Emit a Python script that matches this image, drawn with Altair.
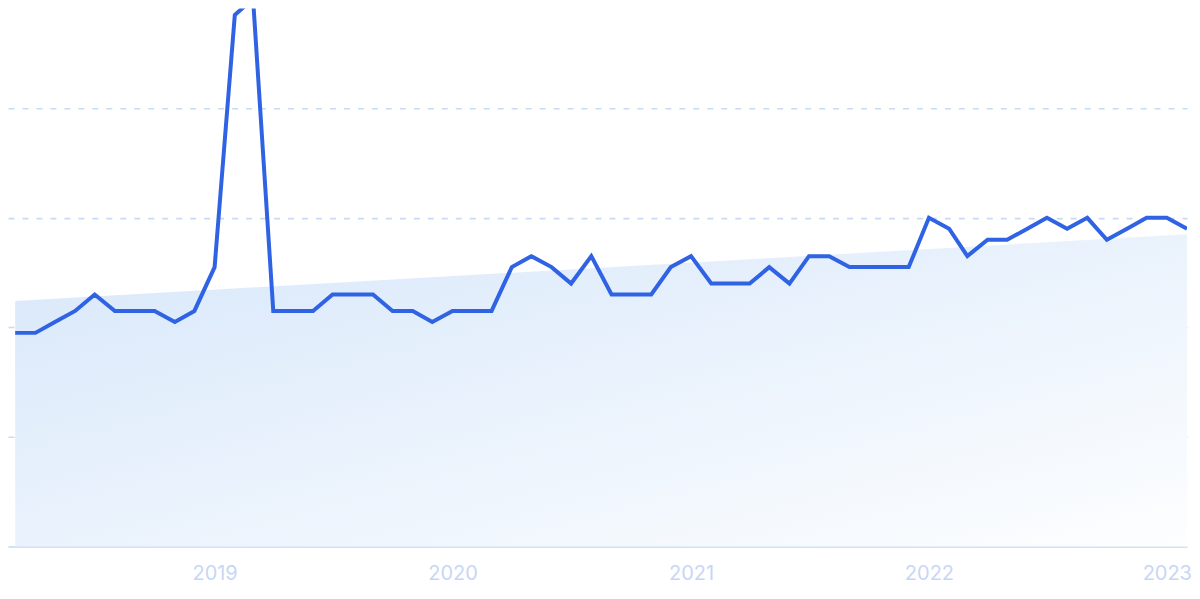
import altair as alt
import pandas as pd

# Monthly values, 2018-03 .. 2023-02
months = pd.date_range("2018-03-01", "2023-02-01", freq="MS").strftime("%Y-%m-%d").tolist()
values = [
    39, 39, 41, 43, 46, 43, 43, 43, 41, 43,
    51, 97, 100, 43, 43, 43, 46, 46, 46, 43,
    43, 41, 43, 43, 43, 51, 53, 51, 48, 53,
    46, 46, 46, 51, 53, 48, 48, 48, 51, 48,
    53, 53, 51, 51, 51, 51, 60, 58, 53, 56,
    56, 58, 60, 58, 60, 56, 58, 60, 60, 58,
]
grid_values = [20, 40, 60, 80]

df = pd.DataFrame({"date": months, "value": values})

xscale = alt.Scale(type="utc", domain=["2018-02-18", "2023-02-01"])
yscale = alt.Scale(domain=[0, 98.2], nice=False, zero=True)

x_axis = alt.Axis(
    format="%Y",
    tickCount={"interval": "year", "step": 1},
    labelFont="Inter",
    labelFontSize=20,
    labelColor="#c8d6f6",
    labelPadding=17,
    labelFlush=False,
    ticks=False,
    grid=False,
    domainColor="#d0e2f8",
    domainWidth=2,
    title=None,
)
y_axis = alt.Axis(
    values=grid_values,
    grid=True,
    gridColor="#c8dbf6",
    gridDash=[6, 8],
    gridWidth=1.6,
    labels=False,
    ticks=False,
    domain=False,
    title=None,
)

base = alt.Chart(df)

trend = base.transform_regression("date", "value", method="linear").mark_area(
    color=alt.Gradient(
        gradient="linear",
        x1=0, y1=0, x2=1, y2=1,
        stops=[
            alt.GradientStop(color="#d7e7fa", offset=0),
            alt.GradientStop(color="#fdfeff", offset=1),
        ],
    )
).encode(
    x=alt.X("date:T", scale=xscale, axis=x_axis),
    y=alt.Y("value:Q", scale=yscale, axis=y_axis),
    y2=alt.datum(0),
)

line = base.mark_line(color="#2f63e4", strokeWidth=4, clip=True, strokeJoin="miter").encode(
    x=alt.X("date:T", scale=xscale, axis=x_axis),
    y=alt.Y("value:Q", scale=yscale, axis=y_axis),
)

chart = (
    alt.layer(trend, line)
    .properties(
        width=1181,
        height=539,
        padding=0,
        view=alt.ViewBackground(stroke="transparent", strokeWidth=0),
    )
    .configure_view(strokeWidth=0, stroke="transparent")
    .configure(background="white")
)

chart.save("out.html", embed_options={"renderer": "svg", "actions": False})
